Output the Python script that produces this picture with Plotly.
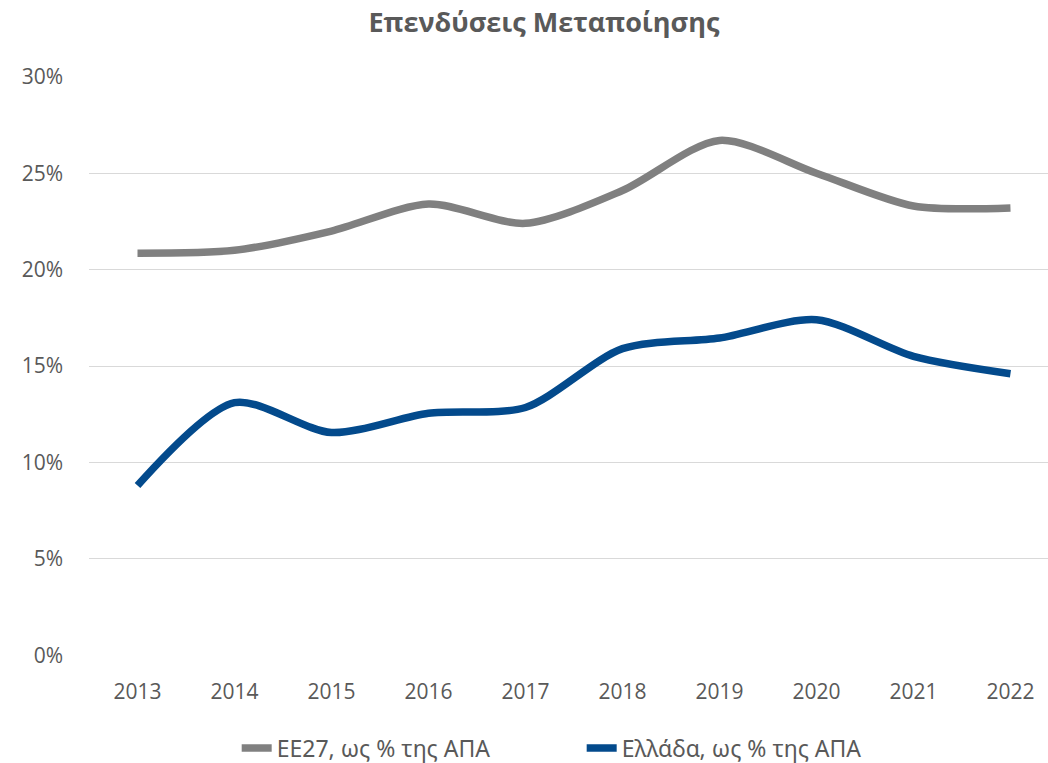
import plotly.graph_objects as go

years = ["2013", "2014", "2015", "2016", "2017", "2018", "2019", "2020", "2021", "2022"]
eu27 = [0.2085, 0.2100, 0.2200, 0.2340, 0.2240, 0.2410, 0.2670, 0.2500, 0.2330, 0.2320]
greece = [0.0880, 0.1310, 0.1155, 0.1255, 0.1285, 0.1590, 0.1645, 0.1740, 0.1550, 0.1460]
names = ["ΕΕ27, ως % της ΑΠΑ", "Ελλάδα, ως % της ΑΠΑ"]

fig = go.Figure()
fig.add_trace(go.Scatter(x=years, y=eu27, name=names[0], mode="lines",
                         line=dict(color="#808080", width=7.5, shape="spline", smoothing=0.8)))
fig.add_trace(go.Scatter(x=years, y=greece, name=names[1], mode="lines",
                         line=dict(color="#034a8c", width=7.5, shape="spline", smoothing=0.8)))

fig.update_layout(
    width=1048, height=763,
    paper_bgcolor="white", plot_bgcolor="white",
    margin=dict(l=89, r=0, t=76, b=107),
    title=dict(text="<b>Επενδύσεις Μεταποίησης</b>", x=0.519, xanchor="center", y=0.971, yanchor="middle",
               font=dict(family="Open Sans", size=27, color="#595959")),
    font=dict(family="Open Sans", color="#595959"),
    xaxis=dict(type="category", range=[-0.5, 9.387], showgrid=False, showline=False, zeroline=False,
               ticks="", tickfont=dict(size=21, color="#595959"), ticklabelstandoff=21),
    yaxis=dict(range=[-0.0004, 0.3004], dtick=0.05, tickformat=".0%", showgrid=True, gridcolor="#d9d9d9",
               gridwidth=1, zeroline=False, showline=False, ticks="",
               tickfont=dict(size=21, color="#595959"), ticklabelstandoff=25),
    legend=dict(orientation="h", x=0.154, xanchor="left", yref="container", y=0.0197, yanchor="middle",
                font=dict(family="Noto Sans", size=23, color="#595959"),
                traceorder="normal", entrywidth=300),
)

fig.write_html("out.html", post_script="document.body.style.margin='0';",
               config={"displayModeBar": False})
